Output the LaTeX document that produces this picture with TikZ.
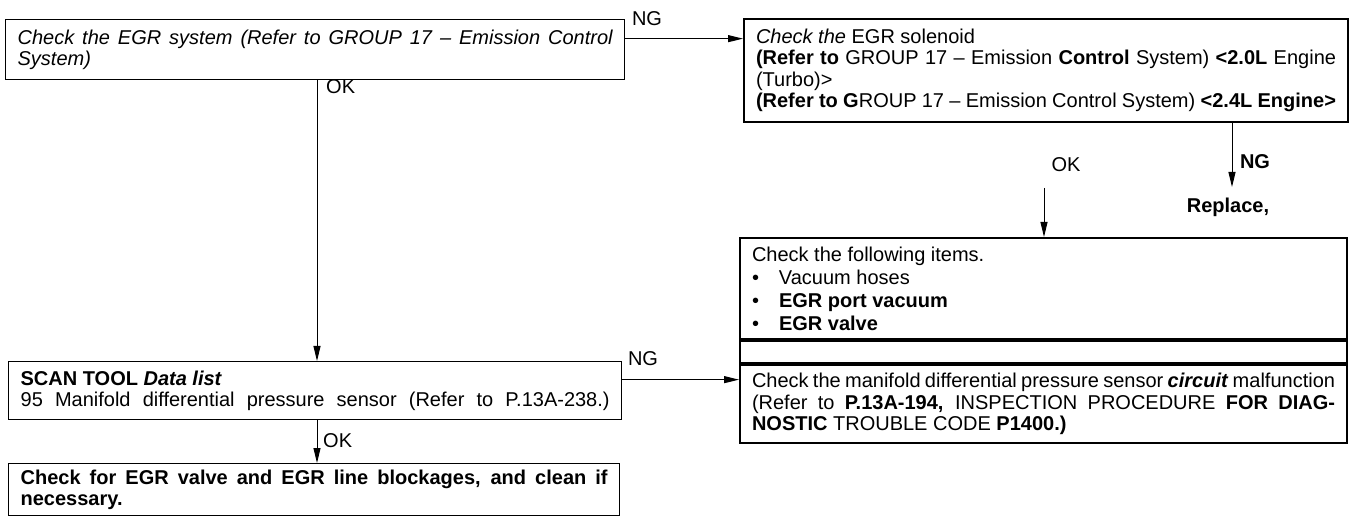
\documentclass[tikz,border=0pt]{standalone}
\usepackage{fontspec}
\setmainfont{Liberation Sans}
\usepackage{tikz}
\usetikzlibrary{arrows.meta,positioning}
\tikzset{
  flowbox/.style={draw,line width=1.3pt,anchor=north west,inner xsep=12pt,inner ysep=0pt},
  rbox/.style={flowbox,line width=2pt},
  arr/.style={line width=1pt,-{Triangle[length=15pt,width=7pt]}},
  lbl/.style={inner sep=0pt,font=\fontsize{20}{21.5}\selectfont},
}
\newcommand{\jline}[1]{\makebox[\linewidth][s]{#1}}
\newcommand{\bxt}[3][21.5]{\parbox{#2}{\fontsize{20}{#1}\selectfont #3}}
\newcommand{\itm}[1]{\makebox[27pt][l]{\textbullet}#1}

\begin{document}
\begin{tikzpicture}[x=1pt,y=-1pt]
  \useasboundingbox (0,0) rectangle (1355,518);
  \node[flowbox,minimum height=60pt] (egrsys) at (5,19)
    {\bxt{595pt}{\itshape\jline{Check the EGR system (Refer to GROUP 17 \textendash{} Emission Control}\\System)}};
  \node[rbox,minimum height=103pt] (solen) at (743,18)
    {\bxt{580pt}{\textit{Check the} EGR solenoid\\
      \jline{\textbf{(Refer to} GROUP 17 \textendash{} Emission \textbf{Control} System) \textbf{<2.0L} Engine}\\
      (Turbo)>\\
      \jline{\textbf{(Refer to G}ROUP 17 \textendash{} Emission Control System) \textbf{<2.4L Engine>}}}};
  \node[rbox,minimum height=101pt] (items) at (739,237)
    {\bxt[23]{583pt}{Check the following items.\\\itm{Vacuum hoses}\\\itm{\textbf{EGR port vacuum}}\\\itm{\textbf{EGR valve}}}};
  \node[rbox,minimum width=607pt,minimum height=22pt,inner sep=0pt] (strip) at (items.south west) {};
  \node[rbox,minimum height=78pt] (circ) at (strip.south west)
    {\bxt{583pt}{\jline{Check the manifold differential pressure sensor \textbf{\textit{circuit}} malfunction}\\
      \jline{(Refer to \textbf{P.13A-194,} INSPECTION PROCEDURE \textbf{FOR DIAG-}}\\
      \textbf{NOSTIC} TROUBLE CODE \textbf{P1400.)}}};
  \node[flowbox,minimum height=58pt] (scan) at (8,361)
    {\bxt{589pt}{\textbf{SCAN TOOL \textit{Data list}}\\\jline{95 Manifold differential pressure sensor (Refer to P.13A-238.)}}};
  \node[flowbox,minimum height=52pt] (clean) at (8,463)
    {\bxt{587pt}{\bfseries\jline{Check for EGR valve and EGR line blockages, and clean if}\\necessary.}};
  \node[lbl] (ng1) at (647,19) {NG};
  \node[lbl,anchor=west] (ok1) at (326,87) {OK};
  \node[lbl] (ng2) at (643,359) {NG};
  \node[lbl,anchor=west] (ok2) at (323,441) {OK};
  \node[lbl] (ok3) at (1066,165) {OK};
  \node[lbl] (ng3) at (1255,162) {\textbf{NG}};
  \node[lbl] (replace) at (1228,207) {\textbf{Replace,}};
  \coordinate (okx) at (317,0);
  \coordinate (okfree) at (1044,188);
  \coordinate (ngfree) at (1232,187);
  \draw[arr] ([yshift=11pt]egrsys.east) -- ([yshift=11pt]egrsys.east -| solen.west);
  \draw[arr] (egrsys.south -| okx) -- (scan.north -| okx);
  \draw[arr] ([yshift=11pt]scan.east) -- ([yshift=11pt]scan.east -| circ.west);
  \draw[arr] (scan.south -| okx) -- (clean.north -| okx);
  \draw[arr] (okfree) -- (okfree |- items.north);
  \draw[arr] (solen.south -| ngfree) -- (ngfree);
\end{tikzpicture}
\end{document}
